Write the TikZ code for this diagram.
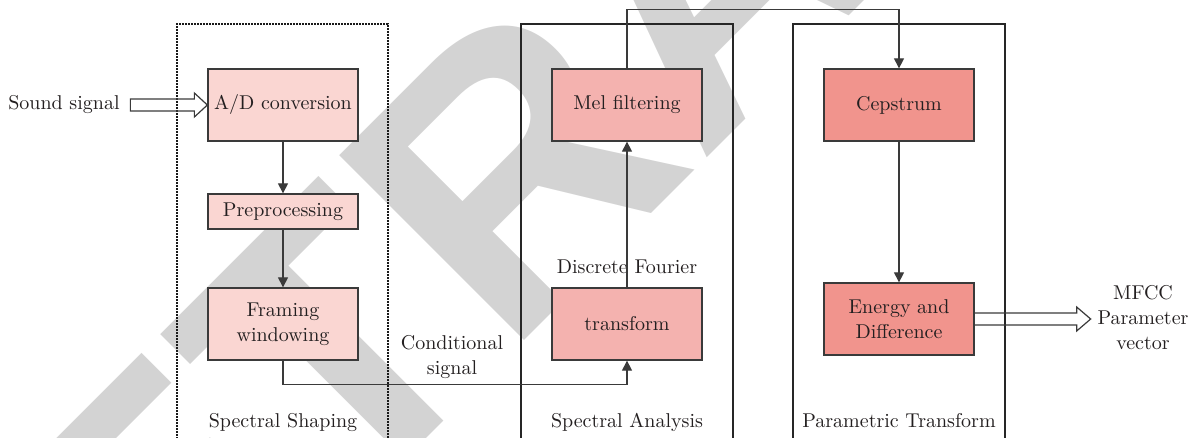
\documentclass[tikz,border=0pt]{standalone}
\usepackage{fontspec}
\newfontfamily\wmfont{Liberation Sans}
\usetikzlibrary{arrows.meta,calc}
\definecolor{boxA}{HTML}{FAD6D2}
\definecolor{boxB}{HTML}{F4B2AF}
\definecolor{boxC}{HTML}{F1948D}
\definecolor{edge}{HTML}{3A3A3A}
\definecolor{ink}{HTML}{231F20}
\definecolor{wmgray}{HTML}{D3D3D3}
\tikzset{
  blk/.style={draw=edge, line width=0.65pt, minimum width=75pt, inner sep=1pt, align=center, text=ink,
    font=\fontsize{10}{12.5}\selectfont},
  lbl/.style={inner sep=0pt, align=center, text=ink, font=\fontsize{10}{12.5}\selectfont},
  conn/.style={draw=edge, line width=0.6pt, -{Triangle[length=5pt,width=5pt]}},
  hollow/.style={draw=edge, line width=0.6pt},
  frameA/.style={draw=black!90, line width=1.4pt, dash pattern=on 1pt off 0.5pt},
  frameB/.style={draw=black!85, line width=0.9pt},
  wm/.style={inner sep=0pt, text=wmgray, font=\wmfont\bfseries\fontsize{190}{190}\selectfont}
}
\begin{document}
\begin{tikzpicture}[x=0.5pt,y=-0.5pt]
\useasboundingbox (0,0) rectangle (1197,438);
% watermark
\begin{scope}
\clip (0,0) rectangle (1197,438);
\node[wm, rotate=45] (wmk) at (705,-25) {RETRACTED};
\end{scope}
% frames
\draw[frameA] (177,445) -- (177,24) -- (388,24) -- (388,445);
\draw[frameB] (521,445) -- (521,24) -- (733,24) -- (733,445);
\draw[frameB] (793,445) -- (793,24) -- (1005,24) -- (1005,445);
% blocks
\node[blk, fill=boxA, minimum height=36pt] (ad) at (283,105) {A/D conversion};
\node[blk, fill=boxA, minimum height=17.5pt] (pre) at (283,211.5) {Preprocessing};
\node[blk, fill=boxA, minimum height=36pt] (fw) at (283,324) {Framing\\windowing};
\node[blk, fill=boxB, minimum height=36pt] (mel) at (627,105) {Mel filtering};
\node[blk, fill=boxB, minimum height=36pt] (tr) at (627,324) {transform};
\node[blk, fill=boxC, minimum height=36pt] (cep) at (899,105) {Cepstrum};
\node[blk, fill=boxC, minimum height=36pt] (en) at (899,319) {Energy and\\Difference};
% labels
\node[lbl, anchor=base east] (snd) at (120,110) {Sound signal};
\node[lbl] (cond) at (452,357) {Conditional\\signal};
\node[lbl, anchor=base] (dft) at (627,273) {Discrete Fourier};
\node[lbl, anchor=base] (ss) at (283,427) {Spectral Shaping};
\node[lbl, anchor=base] (sa) at (627,427) {Spectral Analysis};
\node[lbl, anchor=base] (pt) at (899,427) {Parametric Transform};
\node[lbl] (mfcc) at (1143,318) {MFCC\\Parameter\\vector};
% connectors
\draw[conn] (ad.south) -- (pre.north);
\draw[conn] (pre.south) -- (fw.north);
\draw[conn] (fw.south) -- ++(0,24) -| (tr.south);
\draw[conn] (tr.north) -- (mel.south);
\draw[conn] (mel.north) -- ++(0,-59) -| (cep.north);
\draw[conn] (cep.south) -- (en.north);
% hollow arrows
\draw[hollow] ($(ad.west)+(-77,-6)$) -- ($(ad.west)+(-13,-6)$) -- ($(ad.west)+(-13,-12)$)
  -- (ad.west) -- ($(ad.west)+(-13,12)$) -- ($(ad.west)+(-13,6)$) -- ($(ad.west)+(-77,6)$) -- cycle;
\draw[hollow] ($(en.east)+(0,-6)$) -- ($(en.east)+(102,-6)$) -- ($(en.east)+(102,-12)$)
  -- ($(en.east)+(116,0)$) -- ($(en.east)+(102,12)$) -- ($(en.east)+(102,6)$) -- ($(en.east)+(0,6)$);
\end{tikzpicture}
\end{document}
